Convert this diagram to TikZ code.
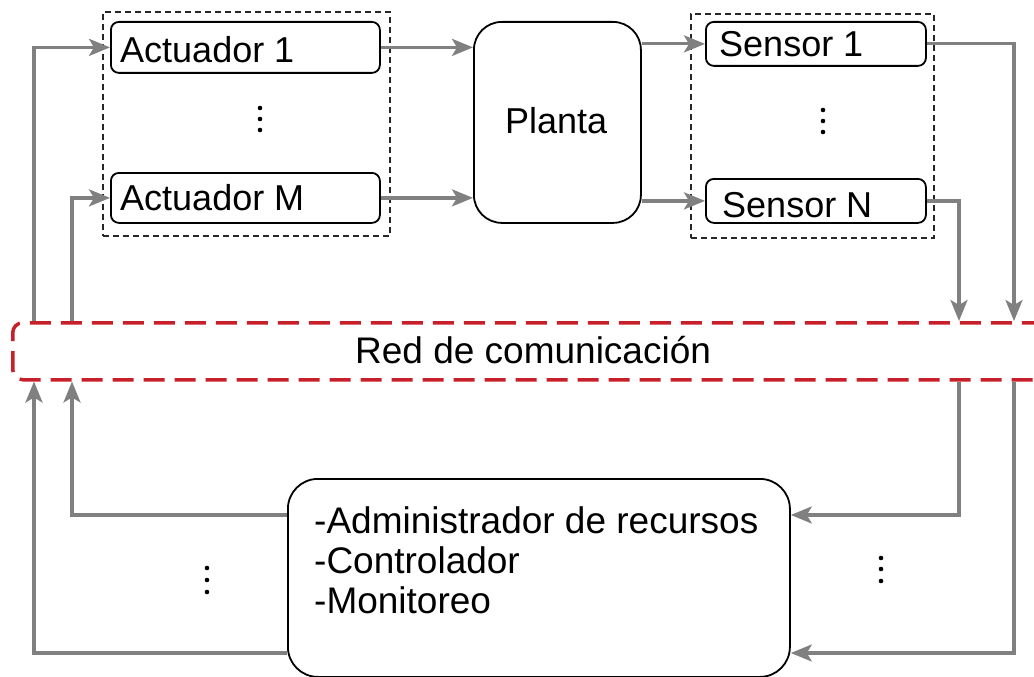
\documentclass[tikz,border=0pt]{standalone}
\usepackage{fontspec}
\setmainfont{Liberation Sans}
\usetikzlibrary{arrows.meta}
\definecolor{linegray}{RGB}{128,128,128}
\definecolor{netred}{RGB}{200,32,42}
\begin{document}
\begin{tikzpicture}[x=1pt,y=-1pt,
  box/.style={draw=black, line width=1.8pt, rounded corners=8pt, inner sep=0pt, anchor=north west},
  txt/.style={anchor=base west, inner sep=0pt, font=\fontsize{36}{40}\selectfont},
  bigtxt/.style={txt, font=\fontsize{37}{40}\selectfont},
  grp/.style={draw=black!85, line width=1.8pt, dash pattern=on 6pt off 4pt, inner sep=0pt, anchor=north west},
  net/.style={draw=netred, line width=3.5pt, dash pattern=on 21pt off 10pt, rounded corners=10pt, inner sep=0pt, anchor=north west},
  arr/.style={draw=linegray, line width=3.2pt, -{Stealth[length=21pt,width=17pt,inset=5pt]}},
  dotf/.style={fill=black}]
\useasboundingbox (0,0) rectangle (1034,677);

% groups
\node[grp, minimum width=287pt, minimum height=224pt] (agrp) at (102,11) {};
\node[grp, minimum width=243pt, minimum height=224pt] (sgrp) at (690,13) {};

% boxes
\node[box, minimum width=269pt, minimum height=51pt] (a1) at (110,21) {};
\node[box, minimum width=269pt, minimum height=50pt] (aM) at (110,172) {};
\node[box, rounded corners=28pt, minimum width=167pt, minimum height=201pt] (planta) at (473,21) {};
\node[box, minimum width=220pt, minimum height=44pt] (s1) at (705,21) {};
\node[box, minimum width=220pt, minimum height=44pt] (sN) at (705,178) {};
\node[net, minimum width=1040pt, minimum height=57pt] (red) at (11,321) {};
\node[box, rounded corners=30pt, minimum width=502pt, minimum height=198pt] (ctrl) at (287,478) {};

% texts
\node[txt] (a1t) at (120,63) {Actuador 1};
\node[txt] (aMt) at (120,210) {Actuador M};
\node[txt] (pt) at (505,133) {Planta};
\node[txt] (s1t) at (719,57) {Sensor 1};
\node[txt] (sNt) at (722,217) {Sensor N};
\node[bigtxt] (redt) at (355,363) {Red de comunicación};
\node[bigtxt] (c1) at (314,533) {-Administrador de recursos};
\node[bigtxt] (c2) at (314,573) {-Controlador};
\node[bigtxt] (c3) at (314,613) {-Monitoreo};

% helper coordinates
\coordinate (xo) at (34,0);
\coordinate (xi) at (72,0);
\coordinate (xr1) at (959,0);
\coordinate (xr2) at (1014,0);
\coordinate (yi) at (0,515);
\coordinate (yo) at (0,653);

% connectors
\draw[arr] (ctrl.west |- yo) -| (xo |- red.south);
\draw[arr] (xo |- red.north) |- (a1.west);
\draw[arr] (ctrl.west |- yi) -| (xi |- red.south);
\draw[arr] (xi |- red.north) |- (aM.west);
\draw[arr] (a1.east) -- (a1.east -| planta.west);
\draw[arr] (aM.east) -- (aM.east -| planta.west);
\draw[arr] (planta.east |- s1.west) -- (s1.west);
\draw[arr] (planta.east |- sN.west) -- (sN.west);
\draw[arr] (s1.east) -| (xr2 |- red.north);
\draw[arr] (sN.east) -| (xr1 |- red.north);
\draw[arr] (xr1 |- red.south) |- (ctrl.east |- yi);
\draw[arr] (xr2 |- red.south) |- (ctrl.east |- yo);

% vertical ellipses
\foreach \y in {108,119,130} \fill[dotf] (260,\y) circle (2.3);
\foreach \y in {110,121,132} \fill[dotf] (823,\y) circle (2.3);
\foreach \y in {568,580,592} \fill[dotf] (207,\y) circle (2.3);
\foreach \y in {558,569,581} \fill[dotf] (881,\y) circle (2.3);
\end{tikzpicture}
\end{document}
